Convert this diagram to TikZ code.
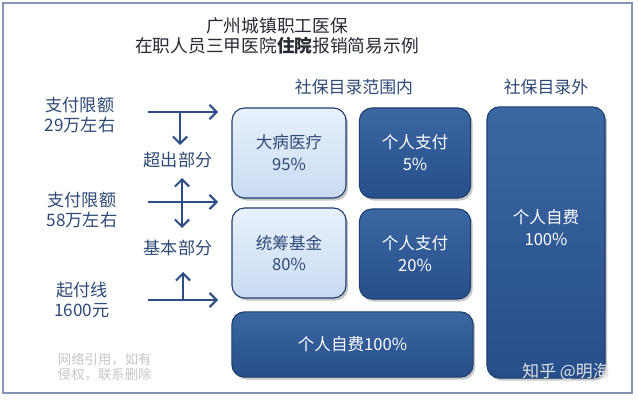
\documentclass[tikz,border=0pt]{standalone}
\usepackage{fontspec}
\setmainfont{Noto Sans CJK SC}
\usepackage{xcolor}
\usepackage{tikz}
\usetikzlibrary{shadows}
\usetikzlibrary{positioning, arrows.meta}

\definecolor{frameblue}{HTML}{8596B4}
\definecolor{edgeblue}{HTML}{1F3F6F}
\definecolor{deeptop}{HTML}{3B67A3}
\definecolor{deepmid}{HTML}{2B5591}
\definecolor{deepbot}{HTML}{264E8A}
\definecolor{paletop}{HTML}{E8F1FC}
\definecolor{palemid}{HTML}{D4E4F7}
\definecolor{palebot}{HTML}{C8DBF2}
\definecolor{inkblue}{HTML}{2D4A77}
\definecolor{arrowblue}{HTML}{2A4E85}
\definecolor{titleink}{HTML}{262A33}

\begin{document}
\begin{tikzpicture}[
    x=0.025cm, y=-0.025cm,
    darkbox/.style={draw=edgeblue, line width=0.8pt, rounded corners=9pt, top color=deeptop, middle color=deepmid, bottom color=deepbot, drop shadow={shadow xshift=1.5pt, shadow yshift=-1.8pt, opacity=0.45}, text=white, align=center, font=\fontsize{11.8}{15.5}\selectfont},
    palebox/.style={draw=edgeblue, line width=0.8pt, rounded corners=9pt, top color=paletop, middle color=palemid, bottom color=palebot, drop shadow={shadow xshift=1.5pt, shadow yshift=-1.8pt, opacity=0.45}, text=inkblue, align=center, font=\fontsize{11.8}{15.5}\selectfont},
    sidelabel/.style={text=inkblue, align=center, font=\fontsize{12.2}{14.5}\selectfont},
    headlabel/.style={text=inkblue, font=\fontsize{12}{14}\selectfont},
    arr/.style={draw=arrowblue, line width=1.5pt, -{Straight Barb[length=5pt,width=10pt]}},
    twoarr/.style={draw=arrowblue, line width=1.5pt, {Straight Barb[length=5pt,width=10pt]}-{Straight Barb[length=5pt,width=10pt]}}
]
    \useasboundingbox (0,0) rectangle (638,400);
    \fill[white] (0,0) rectangle (638,400);
    \draw[frameblue, line width=1.2pt] (3,3) rectangle (632,393);

    % Title
    \node[text=titleink, align=center, font=\fontsize{12.6}{14.6}\selectfont] (title) at (277,36)
        {广州城镇职工医保\\在职人员三甲医院\textbf{住院}报销简易示例};

    % Headers
    \node[headlabel] (inlist) at (354,87) {社保目录范围内};
    \node[headlabel] (outlist) at (546,87) {社保目录外};

    % Boxes
    \node[palebox, minimum width=2.85cm, minimum height=2.25cm] (serious) at (289,153) {大病医疗\\95\%};
    \node[darkbox, minimum width=2.78cm, minimum height=2.25cm] (ownfive) at (415,153) {个人支付\\5\%};
    \node[palebox, minimum width=2.85cm, minimum height=2.25cm] (pooled) at (289,253) {统筹基金\\80\%};
    \node[darkbox, minimum width=2.78cm, minimum height=2.25cm] (owntwenty) at (415,254) {个人支付\\20\%};
    \node[darkbox, minimum width=2.95cm, minimum height=6.78cm] (outside) at (546,242.5) {};
    \node[text=white, align=center, font=\fontsize{11.8}{15.5}\selectfont] (outsidetext) at (546,228) {个人自费\\100\%};
    \node[darkbox, minimum width=6.03cm, minimum height=1.63cm] (below) at (352.5,344.5) {个人自费100\%};

    % Side labels
    \node[sidelabel] (limitA) at (80,115) {支付限额\\29万左右};
    \node[sidelabel] (limitB) at (82,210) {支付限额\\58万左右};
    \node[sidelabel] (deduct) at (82,300) {起付线\\1600元};
    \node[sidelabel] (overpart) at (178,160) {超出部分};
    \node[sidelabel] (basepart) at (178,248) {基本部分};

    % Arrows
    \coordinate (lineAs) at (148,112);
    \coordinate (lineAe) at (218,112);
    \coordinate (lineAm) at (180,112);
    \coordinate (downA) at (180,145);
    \coordinate (lineBs) at (148,202);
    \coordinate (lineBe) at (218,202);
    \coordinate (upB) at (182,178);
    \coordinate (downB) at (182,228);
    \coordinate (lineCs) at (148,300);
    \coordinate (lineCe) at (218,300);
    \coordinate (lineCm) at (183,300);
    \coordinate (upC) at (183,272);
    \draw[arr] (lineAs) -- (lineAe);
    \draw[arr] (lineAm) -- (downA);
    \draw[arr] (lineBs) -- (lineBe);
    \draw[twoarr] (upB) -- (downB);
    \draw[arr] (lineCs) -- (lineCe);
    \draw[arr] (lineCm) -- (upC);

    % Watermarks
    \node[text=black!22, align=left, font=\fontsize{9.5}{11}\selectfont, anchor=west] (netnote) at (53,367) {网络引用，如有\\侵权，联系删除};
    \node[text=black!12, font=\fontsize{12}{14}\selectfont] (signature) at (566,372) {知乎 @明海};
\end{tikzpicture}
\end{document}
